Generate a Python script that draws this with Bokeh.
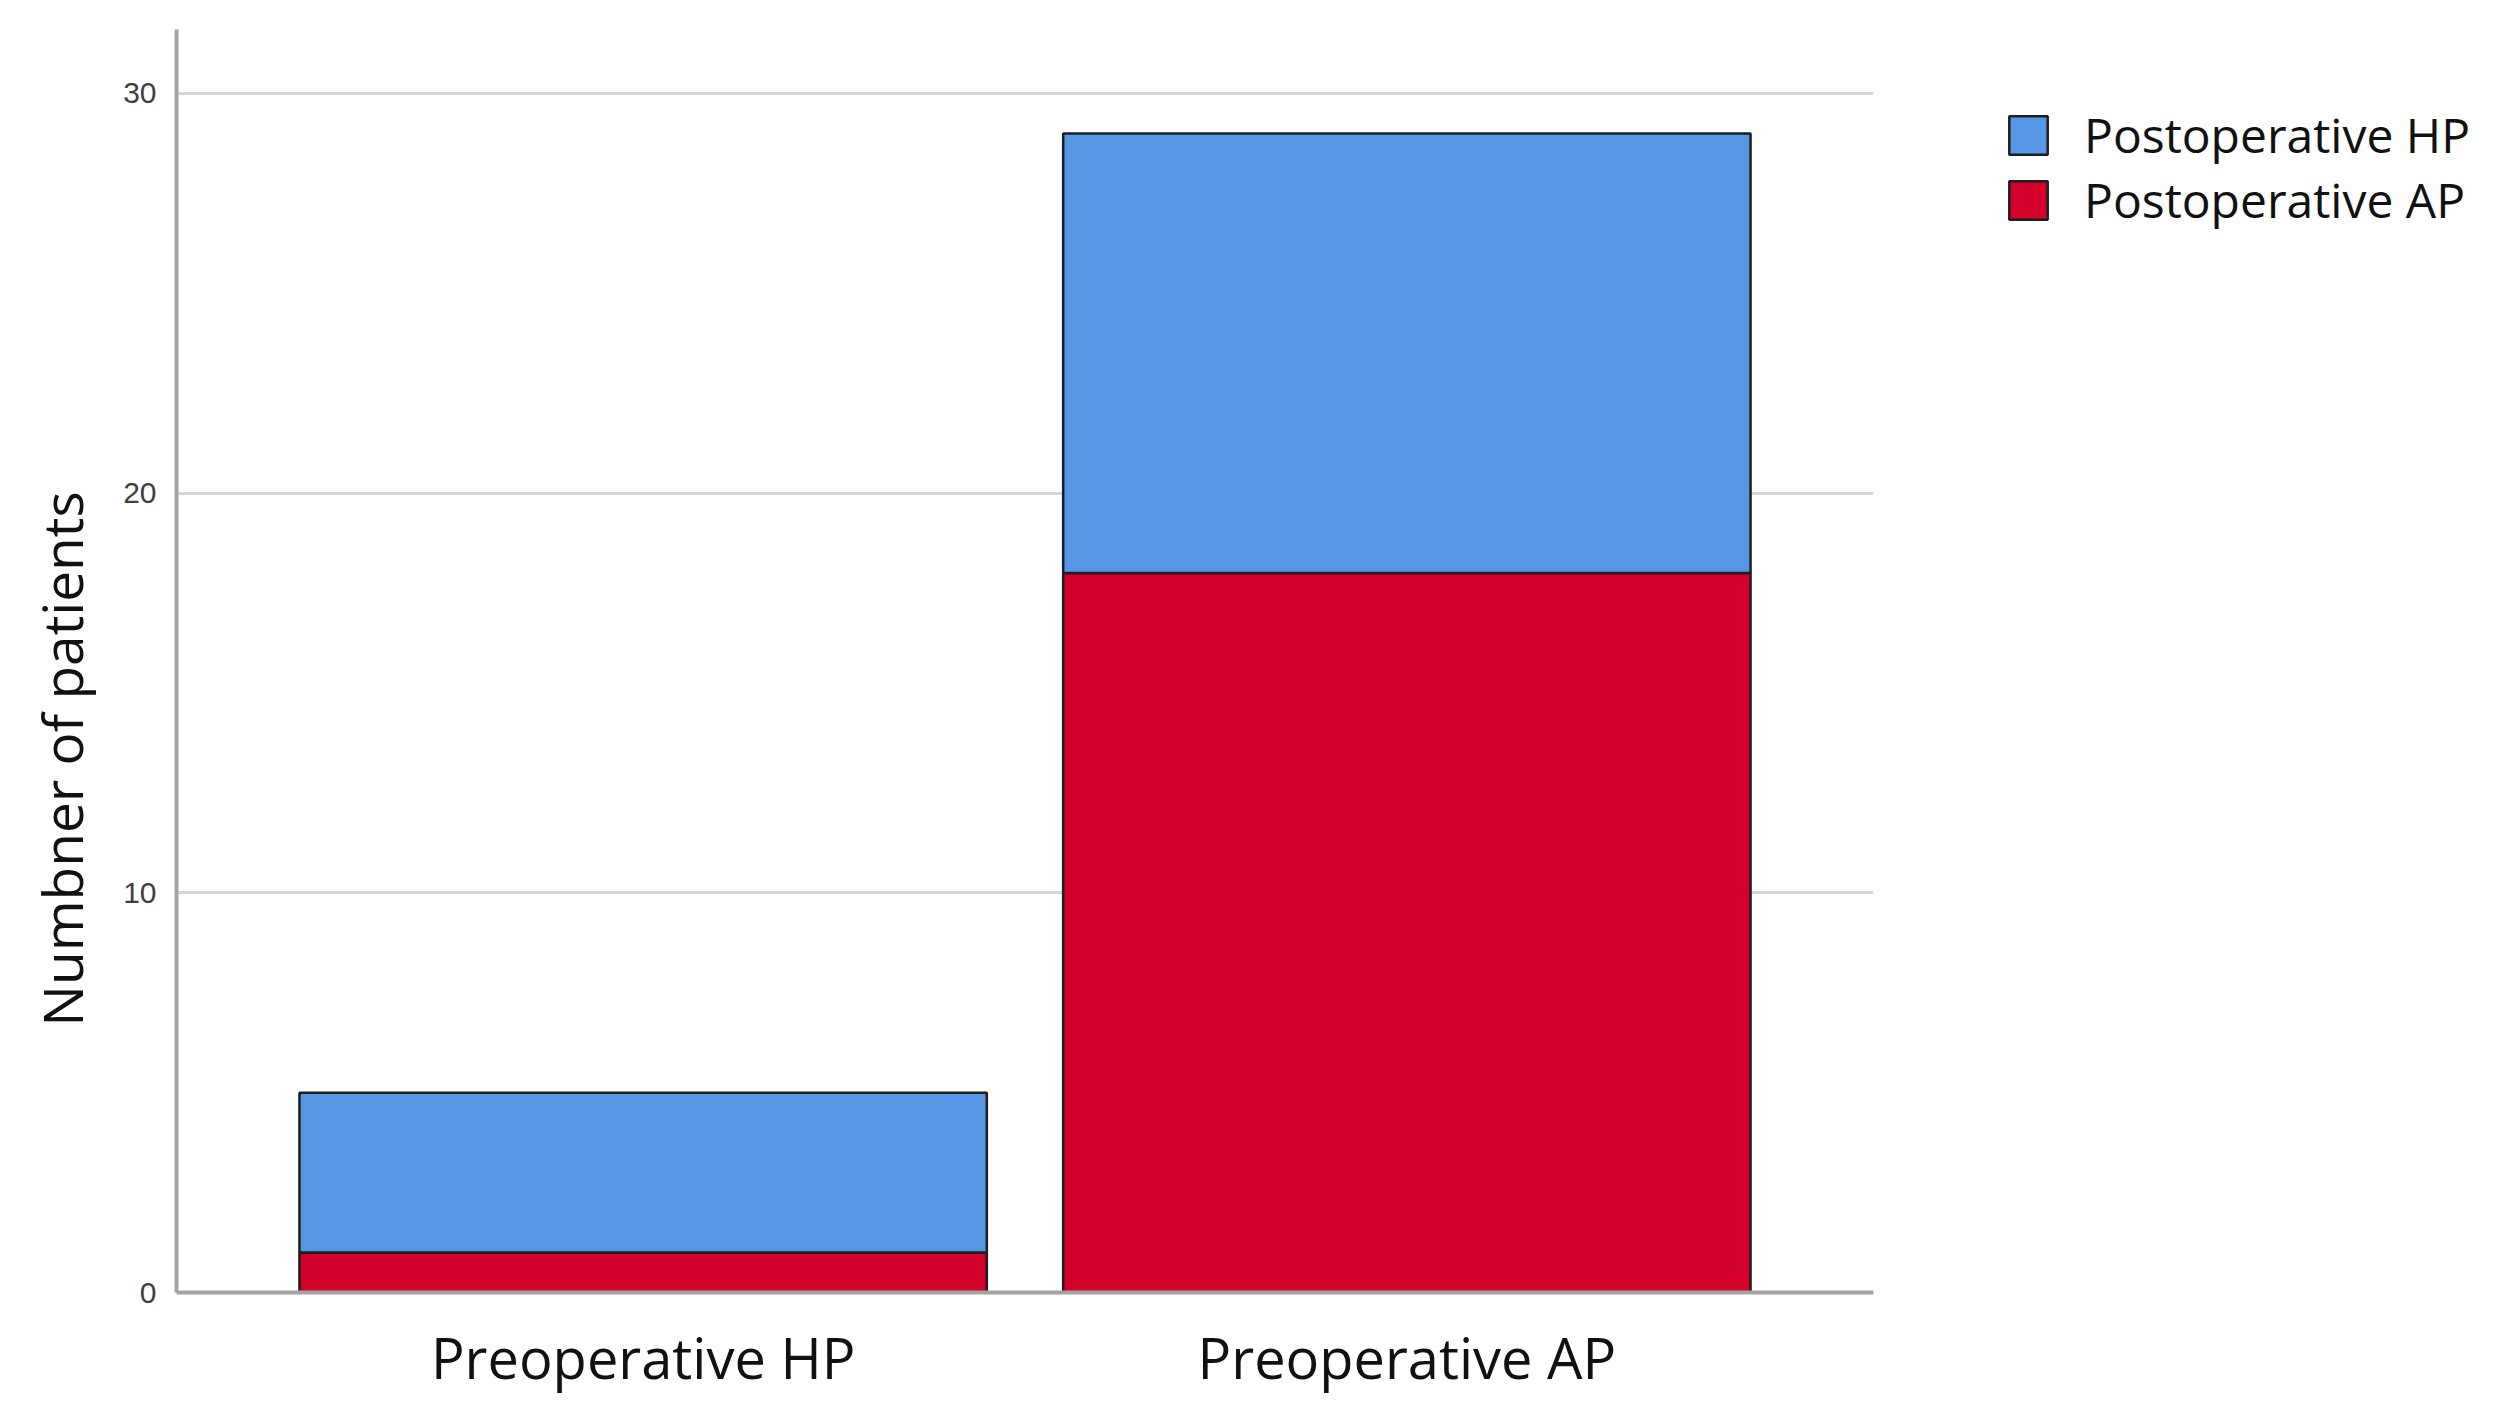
from bokeh.plotting import figure
from bokeh.models import ColumnDataSource, Range1d, FactorRange, Legend, LegendItem, FixedTicker, Title
from bokeh.embed import file_html
from bokeh.resources import INLINE

categories = ["Preoperative HP", "Preoperative AP"]
postop_ap = [1, 18]
postop_hp = [4, 11]
series = ["Postoperative AP", "Postoperative HP"]
colors = ["#D4002C", "#5597E4"]
y_ticks = [0, 10, 20, 30]
y_title = "Numbner of patients"

src = ColumnDataSource(dict(cat=categories, ap=postop_ap, hp=postop_hp))

p = figure(x_range=FactorRange(*categories, range_padding=0.111),
           y_range=Range1d(0, 31.6), frame_width=1697, frame_height=1263,
           output_backend="svg", toolbar_location=None)
p.min_border_left = 169
p.min_border_right = 624
p.min_border_top = 29
p.min_border_bottom = 0
p.outline_line_color = None

rs = p.vbar_stack(["ap", "hp"], x="cat", width=0.9, fill_color=colors,
                  line_color="#1e1e1e", line_width=2.5, source=src)

p.xgrid.grid_line_color = None
p.ygrid.ticker = FixedTicker(ticks=[10, 20, 30])
p.ygrid.grid_line_color = "#d6d6d6"
p.ygrid.grid_line_width = 3
p.ygrid.level = "underlay"

p.yaxis.ticker = FixedTicker(ticks=y_ticks)
p.yaxis.major_label_text_font = "Liberation Sans"
p.yaxis.major_label_text_font_size = "30px"
p.yaxis.major_label_text_color = "#404040"
p.yaxis.major_label_standoff = 14

for ax in (p.xaxis, p.yaxis):
    ax.axis_line_color = "#a3a3a3"
    ax.axis_line_width = 4
    ax.major_tick_line_color = None
    ax.minor_tick_line_color = None

p.xaxis.major_label_text_font = "Open Sans"
p.xaxis.major_label_text_font_size = "56px"
p.xaxis.major_label_text_color = "#111111"
p.xaxis.major_label_standoff = 20

ytitle = Title(text=y_title, align="left", offset=266, standoff=43,
               text_font="Open Sans", text_font_size="55px",
               text_font_style="normal", text_color="#111111")
p.add_layout(ytitle, "left")

legend = Legend(items=[LegendItem(label=series[1], renderers=[rs[1]]),
                       LegendItem(label=series[0], renderers=[rs[0]])],
                location=(131, 1060))
legend.margin = 0
legend.label_text_font = "Open Sans"
legend.label_text_font_size = "48px"
legend.label_text_color = "#111111"
legend.glyph_width = 48
legend.glyph_height = 48
legend.label_height = 48
legend.label_standoff = 32
legend.spacing = 0
legend.padding = 10
legend.border_line_color = None
legend.background_fill_alpha = 0
p.add_layout(legend, "right")

open("out.html", "w").write(file_html(p, INLINE))
